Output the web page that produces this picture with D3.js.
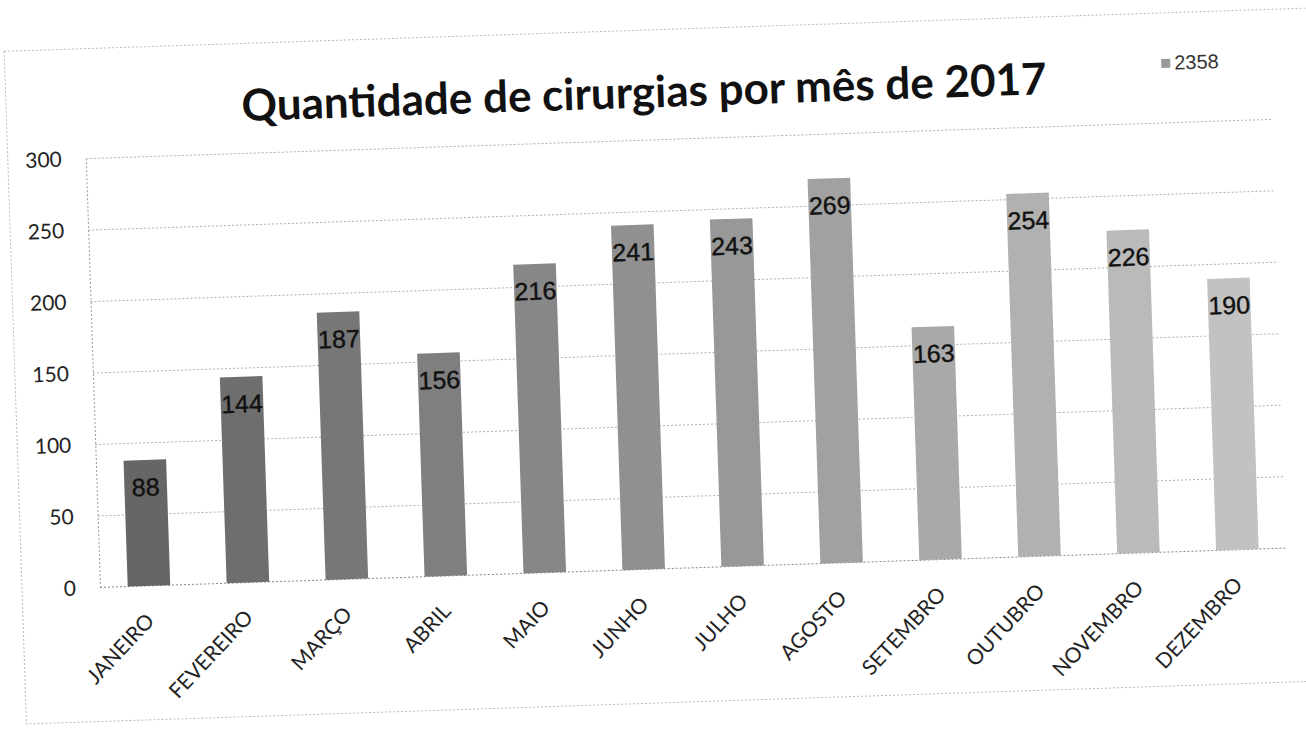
<!DOCTYPE html>
<html>
<head>
<meta charset="utf-8">
<script src="https://cdn.jsdelivr.net/npm/d3@7"></script>
<style>
  html, body { margin: 0; padding: 0; background: #fff; }
  #svg-container { width: 1306px; height: 734px; }
  .title { font-family: Lato, "Open Sans", sans-serif; font-weight: 700; fill: #111; }
  .y-axis text { font-family: Lato, sans-serif; font-size: 21px; fill: #222; }
  .x-axis text { font-family: Lato, sans-serif; font-size: 21px; fill: #222; }
  .bar-label { font-family: "Liberation Sans", Arial, sans-serif; font-size: 25px; fill: #111; stroke: #111; stroke-width: 0.4px; }
  .legend-text { font-family: "Liberation Sans", Arial, sans-serif; font-size: 20px; fill: #333; }
</style>
</head>
<body>
<div id="svg-container"></div>
<script>
////////////////////////////////////////////////////////////////////
////////////////////////////  Data  ////////////////////////////////
const months = ["JANEIRO", "FEVEREIRO", "MARÇO", "ABRIL", "MAIO", "JUNHO",
  "JULHO", "AGOSTO", "SETEMBRO", "OUTUBRO", "NOVEMBRO", "DEZEMBRO"];
const surgeries = [88, 144, 187, 156, 216, 241, 243, 269, 163, 254, 226, 190];
const yTicks = [0, 50, 100, 150, 200, 250, 300];
const legendLabel = "2358";
const titleText = "Quantidade de cirurgias por mês de 2017";

////////////////////////////////////////////////////////////////////
////////////////////////////  Init  ///////////////////////////////
const width = 1306;
const height = 734;
const margin = { top: 140, right: 26, bottom: 165, left: 93 };

const svg = d3.select("#svg-container").append("svg")
  .attr("width", width)
  .attr("height", height);

// the scanned page is a bit tilted
const chart = svg.append("g")
  .attr("transform", `rotate(-1.9, ${width / 2}, ${height / 2})`);

// scales
const xScale = d3.scaleBand()
  .domain(months)
  .range([margin.left, width - margin.right])
  .paddingInner(0.57)
  .paddingOuter(0.28);

const yScale = d3.scaleLinear()
  .domain([0, 300])
  .range([height - margin.bottom, margin.top]);

const colorScale = d3.scaleLinear()
  .domain([0, months.length - 1])
  .range(["#666666", "#c2c2c2"]);

// outer frame
chart.append("rect")
  .attr("x", 15)
  .attr("y", 30)
  .attr("width", 1320)
  .attr("height", 673)
  .attr("fill", "none")
  .attr("stroke", "#b8b8b8")
  .attr("stroke-dasharray", "2,2");

// title
chart.append("text")
  .attr("class", "title")
  .attr("x", width / 2)
  .attr("y", 92)
  .attr("dy", "0.35em")
  .attr("text-anchor", "middle")
  .style("font-size", "44px")
  .text(titleText);

// legend
chart.append("rect")
  .attr("x", 1171)
  .attr("y", 76)
  .attr("width", 9)
  .attr("height", 9)
  .attr("fill", "#9a9a9a");

chart.append("text")
  .attr("class", "legend-text")
  .attr("x", 1184)
  .attr("y", 80)
  .attr("dy", "0.35em")
  .text(legendLabel);

// gridlines
chart.append("g")
  .selectAll("line")
  .data(yTicks)
  .enter()
  .append("line")
  .attr("x1", margin.left)
  .attr("x2", width - margin.right)
  .attr("y1", (d) => yScale(d))
  .attr("y2", (d) => yScale(d))
  .attr("stroke", (d) => (d === 0 ? "#888" : "#b0b0b0"))
  .attr("stroke-dasharray", "2,2");

// axis
const yAxis = d3.axisLeft(yScale).tickValues(yTicks).tickSize(0).tickPadding(24);
chart.append("g")
  .attr("class", "y-axis")
  .attr("transform", `translate(${margin.left}, 0)`)
  .call(yAxis)
  .call((g) => g.select(".domain").attr("stroke", "#999").attr("stroke-dasharray", "2,2"));

const xAxis = d3.axisBottom(xScale).tickSize(0).tickPadding(0);
chart.append("g")
  .attr("class", "x-axis")
  .attr("transform", `translate(0, ${height - margin.bottom})`)
  .call(xAxis)
  .call((g) => g.select(".domain").remove())
  .selectAll("text")
  .attr("text-anchor", "end")
  .attr("transform", "translate(0, 31) rotate(-45)")
  .attr("dy", "0.35em")
  .attr("y", 0);

// bars
chart.selectAll(".bar")
  .data(surgeries)
  .enter()
  .append("rect")
  .attr("class", "bar")
  .attr("x", (d, i) => xScale(months[i]))
  .attr("y", (d) => yScale(d))
  .attr("width", xScale.bandwidth())
  .attr("height", (d) => yScale(0) - yScale(d))
  .attr("fill", (d, i) => colorScale(i));

// value labels (inside end)
chart.selectAll(".bar-label")
  .data(surgeries)
  .enter()
  .append("text")
  .attr("class", "bar-label")
  .attr("x", (d, i) => xScale(months[i]) + xScale.bandwidth() / 2)
  .attr("y", (d) => yScale(d) + 27)
  .attr("dy", "0.35em")
  .attr("text-anchor", "middle")
  .text((d) => d);
</script>
</body>
</html>
